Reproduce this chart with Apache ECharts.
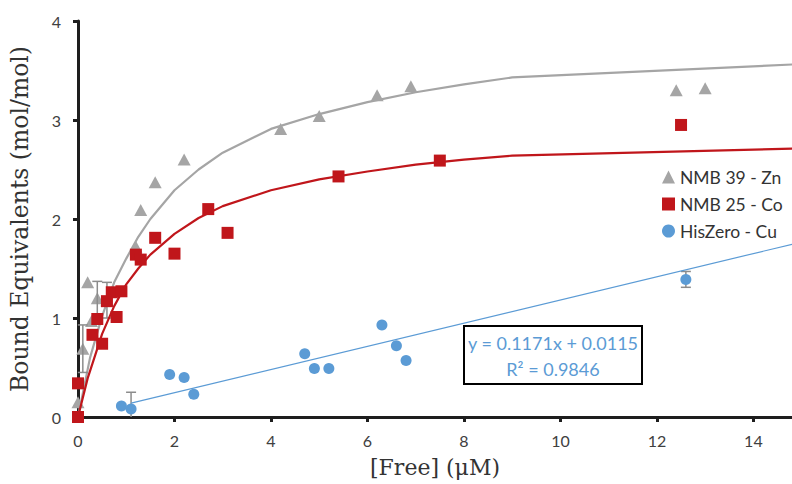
<!DOCTYPE html>
<html>
<head>
<meta charset="utf-8">
<script src="https://cdn.jsdelivr.net/npm/echarts@6/dist/echarts.min.js"></script>
<style>
  html, body { margin: 0; padding: 0; background: #fff; }
  #chart { width: 792px; height: 484px; }
</style>
</head>
<body>
<div id="chart"></div>
<script>
// Axis ranges and steps
const xRange = [0, 14.8];
const xStep = 2;
const yRange = [0, 4];
const yStep = 1;

// Series names
const nameZn = 'NMB 39 - Zn';
const nameCo = 'NMB 25 - Co';
const nameCu = 'HisZero - Cu';

// Measured points: [free (µM), bound equivalents]
const znPoints = [
  [0, 0.15], [0.1, 0.69], [0.2, 1.36], [0.28, 0.97], [0.4, 1.2], [0.6, 1.18],
  [1.2, 1.72], [1.3, 2.09], [1.6, 2.37], [2.2, 2.6], [4.2, 2.91], [5.0, 3.04],
  [6.2, 3.25], [6.9, 3.34], [12.4, 3.3], [13.0, 3.32]
];
const coPoints = [
  [0, 0], [0, 0.34], [0.3, 0.83], [0.4, 0.99], [0.5, 0.74], [0.6, 1.17],
  [0.7, 1.26], [0.8, 1.01], [0.9, 1.27], [1.2, 1.64], [1.3, 1.59], [1.6, 1.81],
  [2.0, 1.65], [2.7, 2.1], [3.1, 1.86], [5.4, 2.43], [7.5, 2.59], [12.5, 2.95]
];
const cuPoints = [
  [0.9, 0.11], [1.1, 0.08], [1.9, 0.43], [2.2, 0.4], [2.4, 0.23],
  [4.7, 0.64], [4.9, 0.49], [5.2, 0.49], [6.3, 0.93], [6.6, 0.72],
  [6.8, 0.57], [12.6, 1.39]
];

// Error bars: [x, y, half-width]
const znErrors = [[0.1, 0.69, 0.24], [0.4, 1.2, 0.17], [0.6, 1.18, 0.18]];
const cuErrors = [[1.1, 0.08, 0.17], [12.6, 1.39, 0.08]];

// Binding-curve fits
const znFit = [
  [0, 0], [0.25, 0.6], [0.5, 1.02], [0.75, 1.36], [1, 1.6], [1.25, 1.82],
  [1.5, 2.0], [2, 2.29], [2.5, 2.5], [3, 2.67], [4, 2.91], [5, 3.06],
  [6, 3.18], [7, 3.28], [8, 3.36], [9, 3.43], [15, 3.565]
];
const coFit = [
  [0, 0], [0.2, 0.39], [0.5, 0.84], [0.75, 1.12], [1, 1.34], [1.25, 1.5],
  [1.5, 1.64], [2, 1.85], [2.5, 2.01], [3, 2.13], [4, 2.29], [5, 2.4],
  [6, 2.48], [7, 2.55], [8, 2.6], [9, 2.64], [15, 2.713]
];

// Linear trend of the Cu data
const cuSlope = 0.1171;
const cuIntercept = 0.0115;
const cuR2 = 0.9846;
const cuTrendX = [1.1, 15];

const grey = '#A5A5A5';
const red = '#C0161B';
const blue = '#5B9BD5';
const axisColor = '#1e1e1e';
const labelColor = '#404040';

const trendLine = cuTrendX.map(x => [x, cuSlope * x + cuIntercept]);
const errorData = znErrors.concat(cuErrors);

const chart = echarts.init(document.getElementById('chart'), null, { renderer: 'svg' });

chart.setOption({
  animation: false,
  backgroundColor: '#ffffff',
  grid: { left: 73, right: 0, top: 21, bottom: 67, containLabel: false },
  xAxis: {
    type: 'value',
    min: xRange[0], max: xRange[1], interval: xStep,
    name: '[Free] (μM)',
    nameLocation: 'middle',
    nameGap: 39,
    nameTextStyle: { fontFamily: 'DejaVu Serif', fontSize: 22, color: '#333333' },
    axisLine: { lineStyle: { color: axisColor, width: 3 } },
    axisTick: { inside: false, length: 5, lineStyle: { color: axisColor, width: 3 } },
    axisLabel: {
      showMaxLabel: false, margin: 15,
      fontFamily: 'Lato', fontSize: 16, color: labelColor
    },
    splitLine: { show: false }
  },
  yAxis: {
    type: 'value',
    min: yRange[0], max: yRange[1], interval: yStep,
    name: 'Bound Equivalents (mol/mol)',
    nameLocation: 'middle',
    nameGap: 46,
    nameTextStyle: { fontFamily: 'DejaVu Serif', fontSize: 23.5, color: '#333333' },
    axisLine: { lineStyle: { color: axisColor, width: 3 } },
    axisTick: { inside: false, length: 5, lineStyle: { color: axisColor, width: 3 } },
    axisLabel: { margin: 17, fontFamily: 'Lato', fontSize: 16, color: labelColor },
    splitLine: { show: false }
  },
  legend: {
    orient: 'vertical',
    left: 657, top: 163,
    itemWidth: 13, itemHeight: 13, itemGap: 9,
    textStyle: { fontFamily: 'Lato', fontSize: 17.5, color: '#333333', lineHeight: 18 },
    data: [
      { name: nameZn, icon: 'triangle' },
      { name: nameCo, icon: 'rect' },
      { name: nameCu, icon: 'circle' }
    ]
  },
  series: [
    {
      name: 'Zn fit', type: 'line', data: znFit, showSymbol: false, symbol: 'none',
      lineStyle: { color: grey, width: 2.2 }, z: 2, silent: true
    },
    {
      name: nameZn, type: 'scatter', data: znPoints, symbol: 'triangle', symbolSize: [13, 12],
      itemStyle: { color: grey, opacity: 1 }, z: 3
    },
    {
      name: 'Co fit', type: 'line', data: coFit, showSymbol: false, symbol: 'none',
      lineStyle: { color: red, width: 2.2 }, z: 4, silent: true
    },
    {
      name: nameCo, type: 'scatter', data: coPoints, symbol: 'rect', symbolSize: 12,
      itemStyle: { color: red, opacity: 1 }, z: 5
    },
    {
      name: 'Cu trend', type: 'line', data: trendLine, showSymbol: false, symbol: 'none',
      lineStyle: { color: blue, width: 1.2 }, z: 6, silent: true
    },
    {
      name: nameCu, type: 'scatter', data: cuPoints, symbol: 'circle', symbolSize: 11,
      itemStyle: { color: blue, opacity: 1 }, z: 7
    },
    {
      name: 'error bars', type: 'custom', z: 4, silent: true,
      data: errorData,
      renderItem: function (params, api) {
        const x = api.value(0), y = api.value(1), e = api.value(2);
        // bars that would dip below zero stop at the axis, without a lower cap
        const low = Math.max(y - e, yRange[0]);
        const top = api.coord([x, y + e]);
        const bot = api.coord([x, low]);
        const w = 5;
        const style = { stroke: '#8c8c8c', lineWidth: 1.5, fill: null };
        const parts = [
          { type: 'line', shape: { x1: top[0], y1: top[1], x2: bot[0], y2: bot[1] }, style: style },
          { type: 'line', shape: { x1: top[0] - w, y1: top[1], x2: top[0] + w, y2: top[1] }, style: style }
        ];
        if (y - e >= yRange[0]) {
          parts.push({ type: 'line', shape: { x1: bot[0] - w, y1: bot[1], x2: bot[0] + w, y2: bot[1] }, style: style });
        }
        return { type: 'group', children: parts };
      }
    }
  ],
  graphic: [
    {
      type: 'group', left: 463, top: 325,
      children: [
        { type: 'rect', shape: { x: 0, y: 0, width: 178, height: 58 },
          style: { fill: '#ffffff', stroke: '#000000', lineWidth: 2 } },
        { type: 'text', x: 89, y: 17,
          style: { text: 'y = ' + cuSlope + 'x + ' + cuIntercept, fill: blue,
                   font: '18px Lato', align: 'center', verticalAlign: 'middle' } },
        { type: 'text', x: 89, y: 43,
          style: { text: 'R² = ' + cuR2, fill: blue,
                   font: '18px Lato', align: 'center', verticalAlign: 'middle' } }
      ]
    }
  ]
});
</script>
</body>
</html>
